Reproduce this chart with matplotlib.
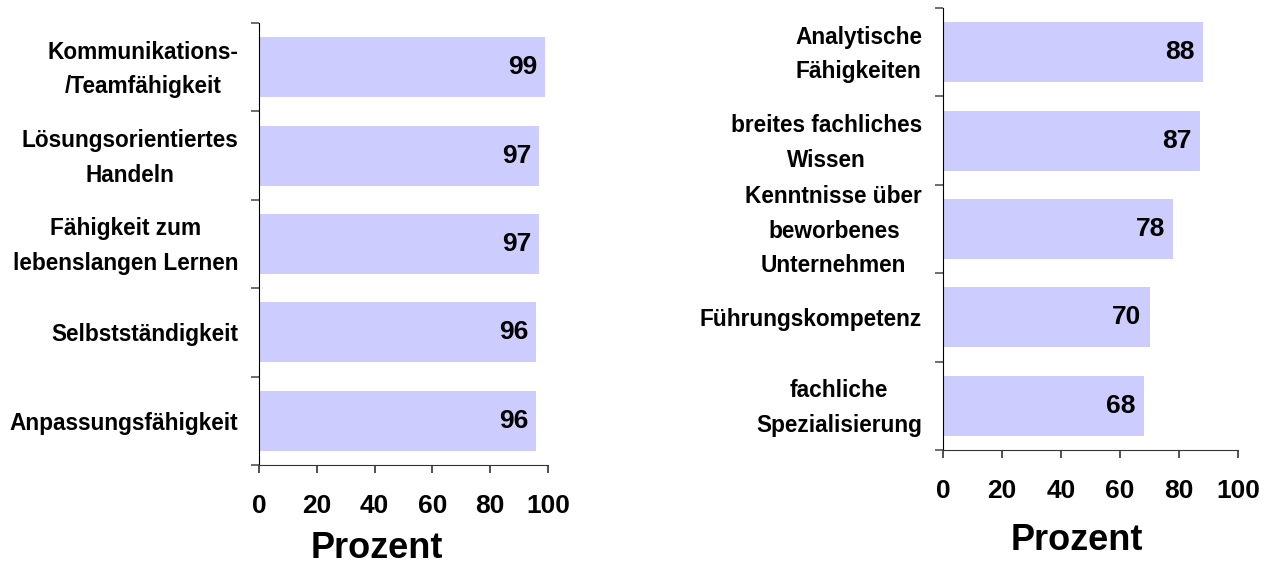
import numpy as np
import matplotlib.pyplot as plt

plt.rcParams['font.family'] = ['Liberation Sans', 'DejaVu Sans']
plt.rcParams['font.weight'] = 'bold'

# left panel
cats_left = ['Kommunikations-\n/Teamfähigkeit', 'Lösungsorientiertes\nHandeln',
             'Fähigkeit zum\nlebenslangen Lernen', 'Selbstständigkeit', 'Anpassungsfähigkeit']
vals_left = [99, 97, 97, 96, 96]

# right panel
cats_right = ['Analytische\nFähigkeiten', 'breites fachliches\nWissen',
              'Kenntnisse über\nbeworbenes\nUnternehmen', 'Führungskompetenz',
              'fachliche\nSpezialisierung']
vals_right = [88, 87, 78, 70, 68]

xticks = [0, 20, 40, 60, 80, 100]
bar_color = '#CCCCFF'

W, H = 1265, 572
fig = plt.figure(figsize=(W / 100, H / 100), dpi=100)


def panel(rect, cats, vals, label_xy):
    ax = fig.add_axes(rect)
    n = len(cats)
    y = np.arange(n)
    ax.barh(y, vals, height=0.68, color=bar_color, zorder=2)
    for yi, v in zip(y, vals):
        ax.annotate(str(v), (v, yi), xytext=(-8, 0), textcoords='offset pixels',
                    ha='right', va='center', fontsize=19, fontweight='bold')
    ax.set_ylim(n - 0.5, -0.5)
    ax.set_xlim(0, 100)
    # multi-line labels sit a little higher than the bar centre
    lab_pos = [yi - (0.07 if '\n' in c else 0) for yi, c in zip(y, cats)]
    ax.set_yticks(lab_pos)
    ax.set_yticklabels(cats, fontsize=16.3, fontweight='bold')
    for t in ax.get_yticklabels():
        t.set_multialignment('center')
        t.set_linespacing(1.65)
    ax.set_yticks(np.arange(-0.5, n, 1), minor=True)
    ax.tick_params(axis='y', which='major', length=0, pad=15)
    ax.tick_params(axis='y', which='minor', length=6, width=1.2, color='#555555', direction='out')
    ax.set_xticks(xticks)
    ax.set_xticklabels([str(t) for t in xticks], fontsize=19, fontweight='bold')
    ax.tick_params(axis='x', length=6, width=1.2, color='#333333', pad=15)
    for s in ['top', 'right']:
        ax.spines[s].set_visible(False)
    ax.spines['left'].set_color('black')
    ax.spines['bottom'].set_color('#333333')
    ax.set_xlabel('Prozent', fontsize=26, fontweight='bold')
    ax.xaxis.set_label_coords(*label_xy)
    ax.xaxis.label.set_va('center')
    return ax


panel([259 / W, 1 - 465 / H, 289 / W, 442 / H], cats_left, vals_left, (0.408, -0.188))
panel([943 / W, 1 - 450 / H, 295 / W, 442 / H], cats_right, vals_right, (0.454, -0.204))

fig.savefig('out.png', dpi=100)
